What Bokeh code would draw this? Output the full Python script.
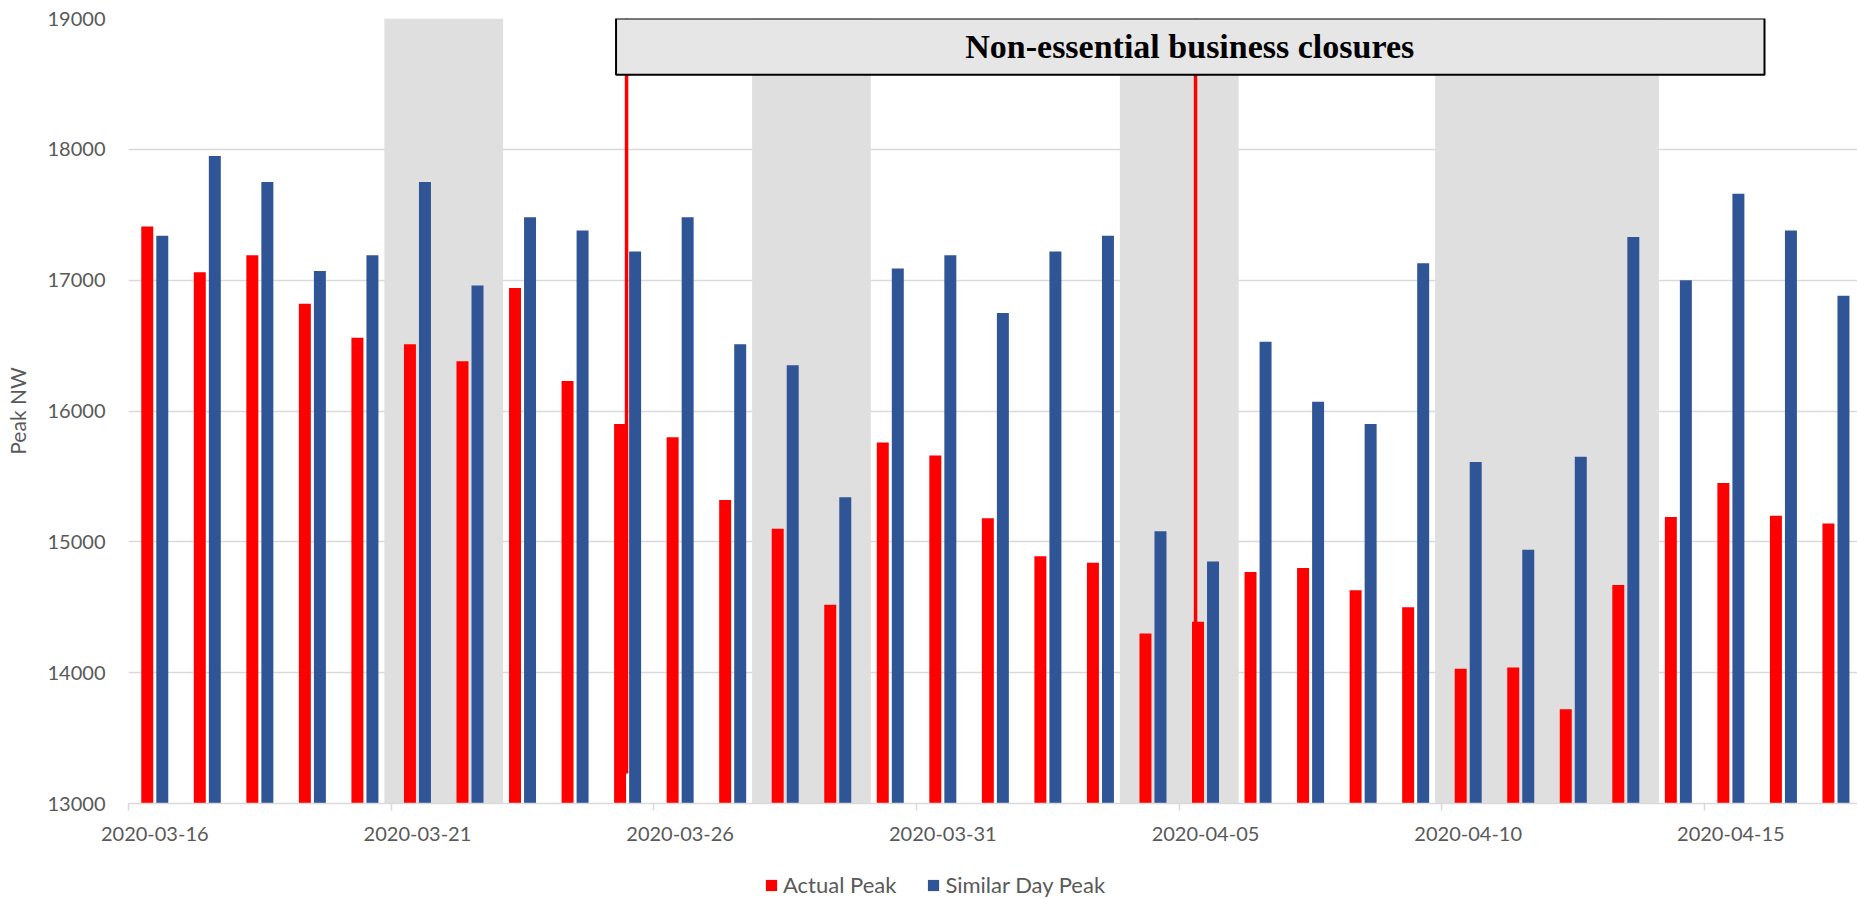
from bokeh.plotting import figure
from bokeh.layouts import column
from bokeh.models import (ColumnDataSource, FixedTicker, Range1d, Legend,
                          LegendItem)
from bokeh.transform import dodge
from bokeh.core.properties import value
from bokeh.embed import file_html
from bokeh.resources import INLINE

# Daily peak demand, actual vs. similar-day estimate
dates = [
    "2020-03-16", "2020-03-17", "2020-03-18", "2020-03-19", "2020-03-20",
    "2020-03-21", "2020-03-22", "2020-03-23", "2020-03-24", "2020-03-25",
    "2020-03-26", "2020-03-27", "2020-03-28", "2020-03-29", "2020-03-30",
    "2020-03-31", "2020-04-01", "2020-04-02", "2020-04-03", "2020-04-04",
    "2020-04-05", "2020-04-06", "2020-04-07", "2020-04-08", "2020-04-09",
    "2020-04-10", "2020-04-11", "2020-04-12", "2020-04-13", "2020-04-14",
    "2020-04-15", "2020-04-16", "2020-04-17",
]
actual_peak = [
    17410, 17060, 17190, 16820, 16560, 16510, 16380, 16940, 16230, 15900,
    15800, 15320, 15100, 14520, 15760, 15660, 15180, 14890, 14840, 14300,
    14390, 14770, 14800, 14630, 14500, 14030, 14040, 13720, 14670, 15190,
    15450, 15200, 15140,
]
similar_day_peak = [
    17340, 17950, 17750, 17070, 17190, 17750, 16960, 17480, 17380, 17220,
    17480, 16510, 16350, 15340, 17090, 17190, 16750, 17220, 17340, 15080,
    14850, 16530, 16070, 15900, 17130, 15610, 14940, 15650, 17330, 17000,
    17660, 17380, 16880,
]
series_names = ["Actual Peak", "Similar Day Peak"]

# Weekends and holidays (first day, last day)
shaded_periods = [
    ("2020-03-21", "2020-03-22"),
    ("2020-03-28", "2020-03-29"),
    ("2020-04-04", "2020-04-05"),
    ("2020-04-10", "2020-04-13"),
]

# Closure orders, positions in days from the first date
closure_x = [8.98, 19.81]
closure_bottom = [13230, 13000]
banner_text = "Non-essential business closures"
banner_left, banner_right = 8.78, 30.64
banner_bottom, banner_top = 18570, 19000
banner_text_x = 19.70

tick_every = 5
y_min, y_max = 13000, 19000

RED = "#FF0000"
BLUE = "#2F5597"
GREY_TEXT = "#595959"
GRID = "#D9D9D9"
SHADE = "#DFDFDF"
FONT = "Lato"

W = 1857
LEFT = 128
MAIN_H = 854
LEGEND_H = 45

idx = list(range(len(dates)))
src = ColumnDataSource(dict(i=idx, actual=actual_peak, similar=similar_day_peak,
                            base=[y_min] * len(dates)))

p = figure(width=W, height=MAIN_H, output_backend="svg", toolbar_location=None,
           x_range=Range1d(-0.5, 32.41), y_range=Range1d(y_min, y_max),
           min_border_left=LEFT, min_border_right=0, min_border_top=18,
           min_border_bottom=MAIN_H - 803)
p.outline_line_color = None
p.background_fill_color = "white"
p.border_fill_color = "white"

# shaded non-working days
pad = 0.13
sx0 = [dates.index(a) - 0.5 - pad for a, b in shaded_periods]
sx1 = [dates.index(b) + 0.5 + pad for a, b in shaded_periods]
p.quad(left=sx0, right=sx1, bottom=[y_min] * len(sx0), top=[y_max] * len(sx0),
       fill_color=SHADE, line_color=None)

# bars
bw = 0.228
off = 0.143
p.vbar(x=dodge("i", -off, range=p.x_range), top="actual", bottom="base",
       width=bw, source=src, fill_color=RED, line_color=None)
p.vbar(x=dodge("i", off, range=p.x_range), top="similar", bottom="base",
       width=bw, source=src, fill_color=BLUE, line_color=None)

# closure markers and banner
p.segment(x0=closure_x, x1=closure_x, y0=closure_bottom,
          y1=[y_max] * len(closure_x), line_color=RED, line_width=3.5)
p.quad(left=[banner_left], right=[banner_right], bottom=[banner_bottom],
       top=[banner_top], fill_color="#E6E6E6", line_color="black", line_width=2)
p.text(x=[banner_text_x], y=[(banner_bottom + banner_top) / 2],
       text=[banner_text], text_font=value("Liberation Serif"),
       text_font_style="bold", text_font_size="34px", text_align="center",
       text_baseline="middle", text_color="black")

# axes
major = [i for i in idx if i % tick_every == 0]
minor = [-0.5] + [i - 0.5 for i in idx if i % tick_every == 0 and i > 0]
p.xaxis.ticker = FixedTicker(ticks=major, minor_ticks=minor)
p.xaxis.major_label_overrides = {i: dates[i] for i in major}
p.xaxis.major_tick_line_color = None
p.xaxis.major_tick_out = 0
p.xaxis.major_tick_in = 0
p.xaxis.minor_tick_line_color = GRID
p.xaxis.minor_tick_line_width = 1.5
p.xaxis.minor_tick_out = 7
p.xaxis.minor_tick_in = 0
p.xaxis.axis_line_color = GRID
p.xaxis.axis_line_width = 1.5
p.xaxis.major_label_standoff = 16
p.xaxis.major_label_text_font = FONT
p.xaxis.major_label_text_font_size = "20px"
p.xaxis.major_label_text_color = GREY_TEXT

p.yaxis.ticker = FixedTicker(ticks=list(range(y_min, y_max + 1, 1000)))
p.yaxis.axis_line_color = None
p.yaxis.major_tick_line_color = None
p.yaxis.minor_tick_line_color = None
p.yaxis.major_tick_out = 0
p.yaxis.major_label_standoff = 23
p.yaxis.major_label_text_font = FONT
p.yaxis.major_label_text_font_size = "20px"
p.yaxis.major_label_text_color = GREY_TEXT
p.yaxis.axis_label = "Peak NW"
p.yaxis.axis_label_text_font = FONT
p.yaxis.axis_label_text_font_size = "21px"
p.yaxis.axis_label_text_font_style = "normal"
p.yaxis.axis_label_text_color = GREY_TEXT
p.yaxis.axis_label_standoff = 15

p.xgrid.visible = False
p.ygrid.grid_line_color = GRID
p.ygrid.grid_line_width = 1.3

# legend strip underneath the chart (its frame lines up with the chart's)
leg = figure(width=W, height=LEGEND_H, output_backend="svg",
             toolbar_location=None, x_range=Range1d(0, W - LEFT),
             y_range=Range1d(0, LEGEND_H), min_border=0)
leg.axis.visible = False
leg.grid.visible = False
leg.outline_line_color = None
leg.background_fill_color = "white"
leg.border_fill_color = "white"
# zero-height swatch renderers: only their legend glyphs are seen
sw_red = leg.vbar(x=[10], top=[0], bottom=[0], width=1,
                  fill_color=RED, line_color=None)
sw_blue = leg.vbar(x=[10], top=[0], bottom=[0], width=1,
                   fill_color=BLUE, line_color=None)
legend = Legend(items=[LegendItem(label=series_names[0], renderers=[sw_red]),
                       LegendItem(label=series_names[1], renderers=[sw_blue])],
                orientation="horizontal", location=(764 - LEFT, 1),
                glyph_width=14, glyph_height=14, label_standoff=5, spacing=30,
                padding=0, margin=0, border_line_color=None,
                background_fill_alpha=0,
                label_text_font=FONT, label_text_font_size="22px",
                label_text_color=GREY_TEXT)
leg.add_layout(legend, "center")

layout = column(p, leg, spacing=0)
open("out.html", "w").write(file_html(layout, INLINE))
